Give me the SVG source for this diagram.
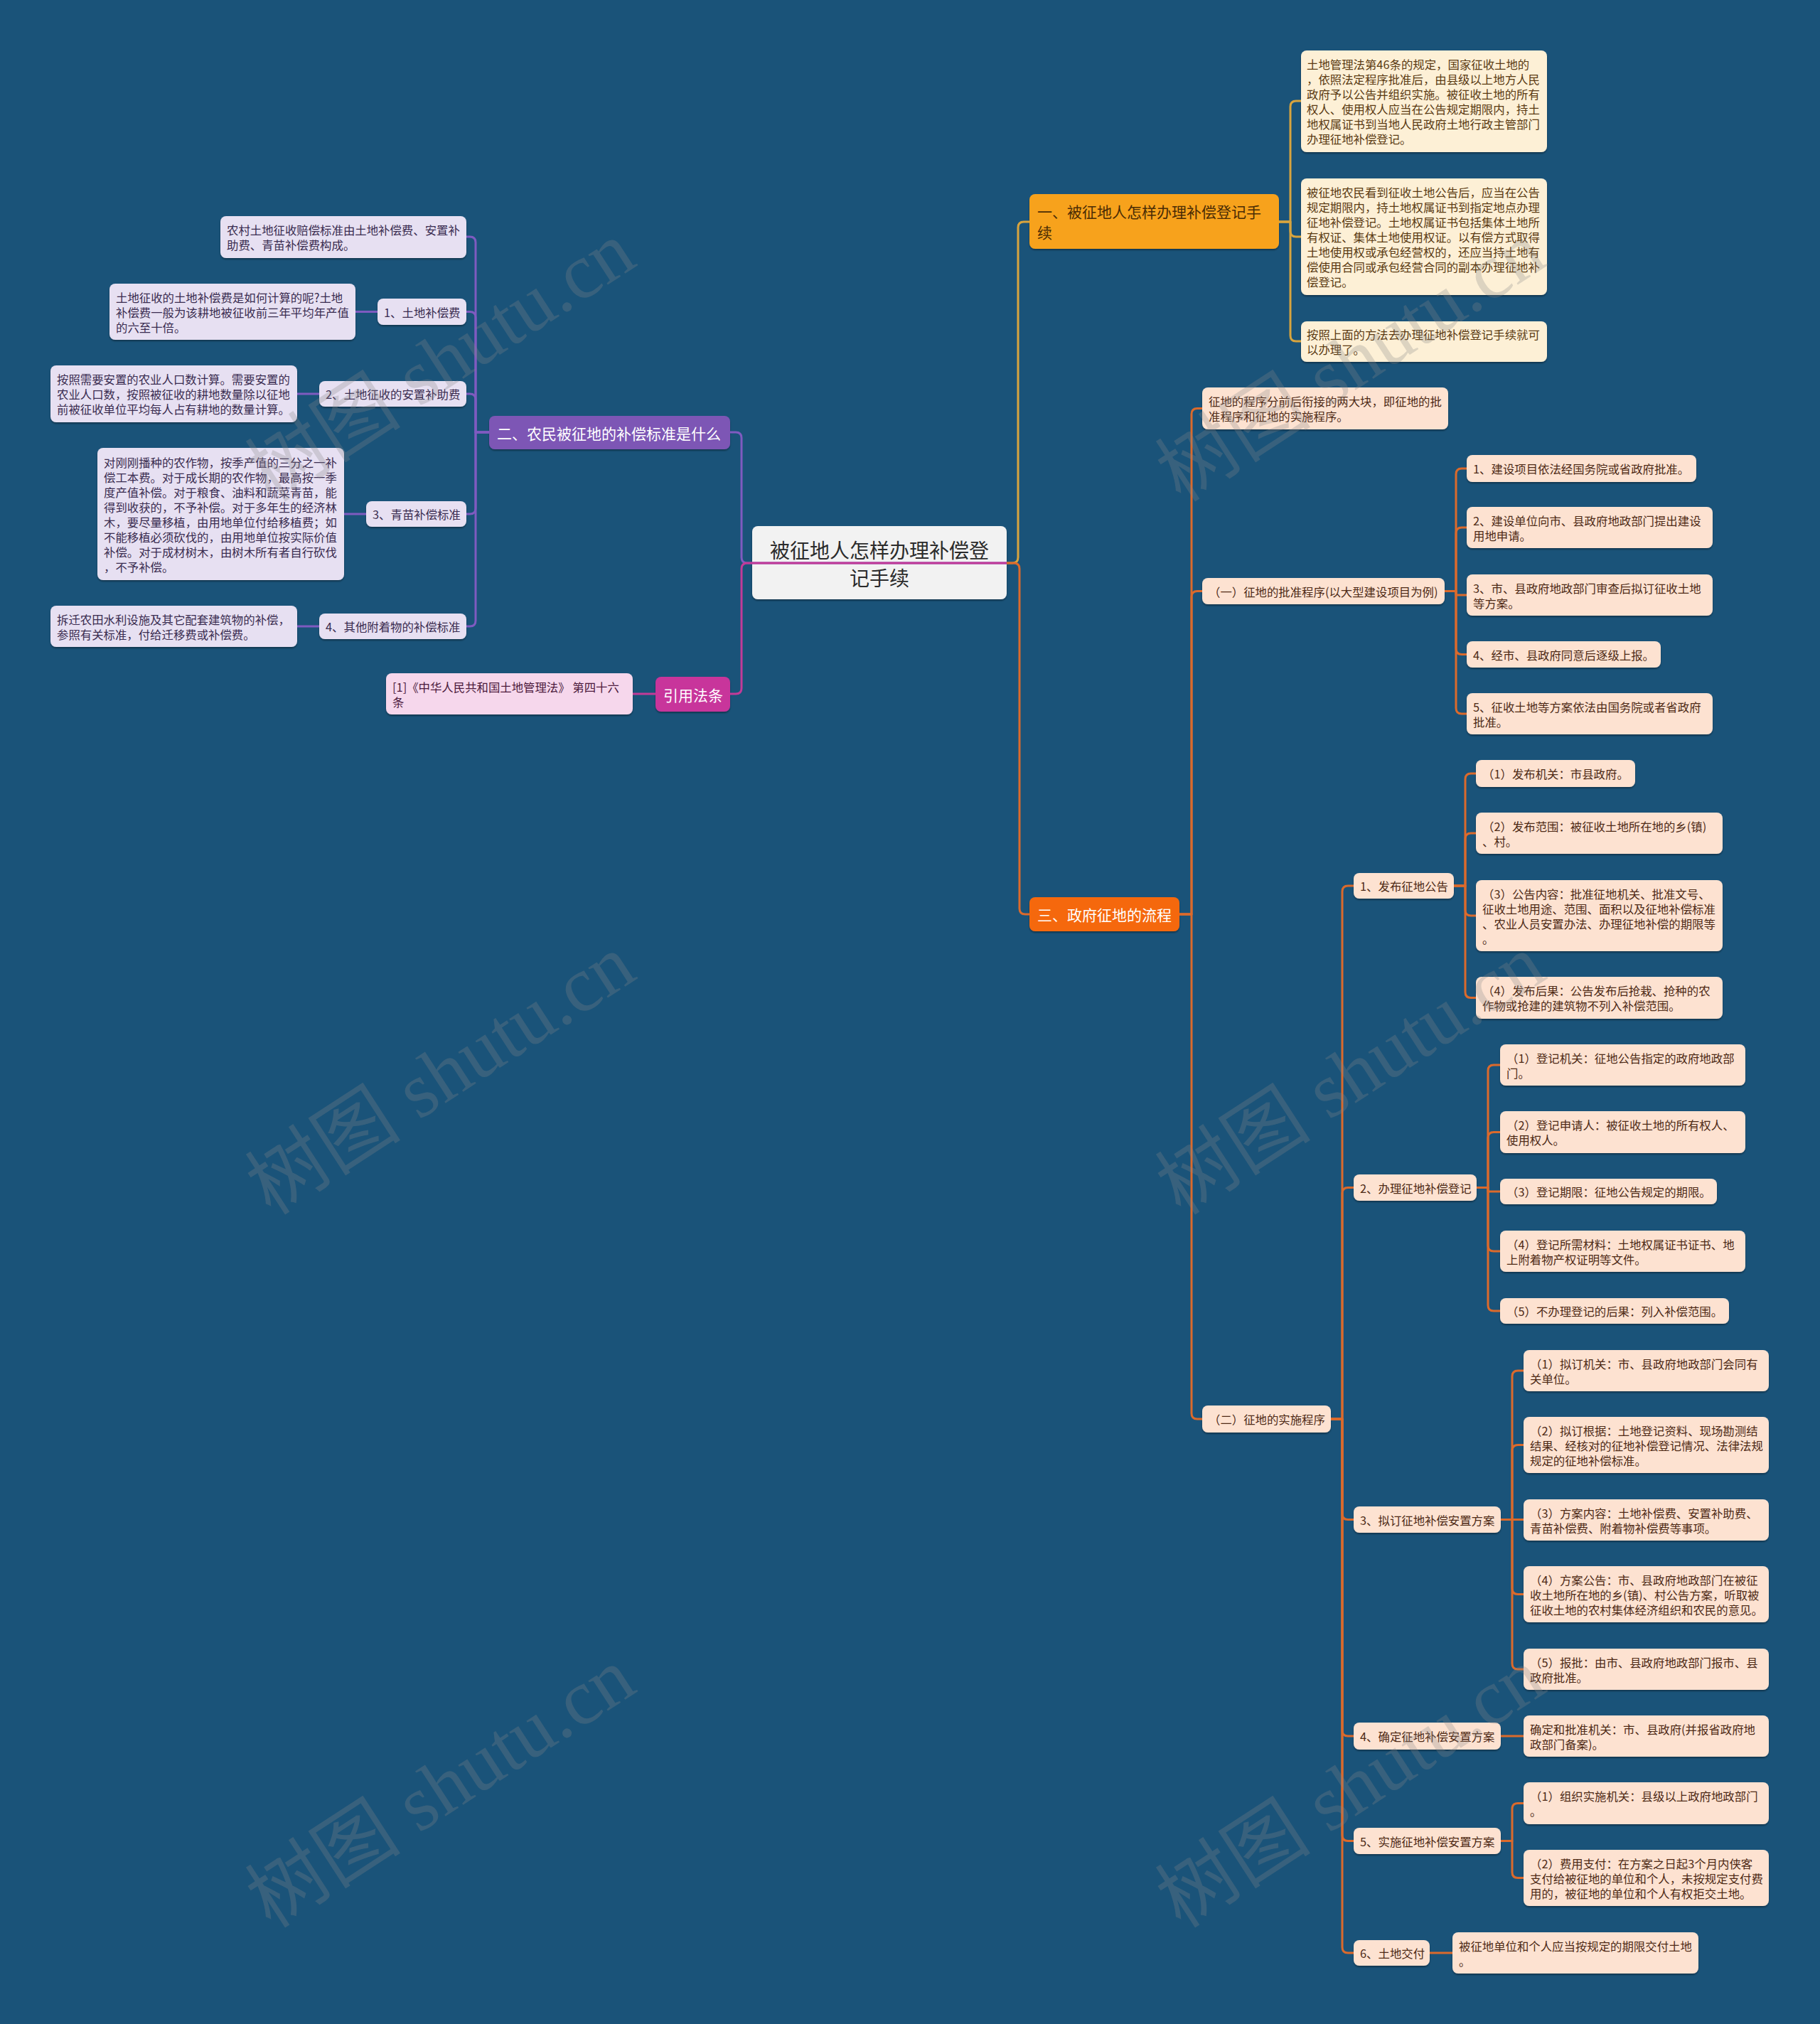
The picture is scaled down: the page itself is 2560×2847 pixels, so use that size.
<svg xmlns="http://www.w3.org/2000/svg" width="2560" height="2847" viewBox="0 0 2560 2847">
<defs>
<filter id="ds" x="-5%" y="-10%" width="110%" height="130%"><feDropShadow dx="0" dy="2" stdDeviation="1" flood-color="#000" flood-opacity="0.35"/></filter>
</defs>
<style>
text{font-family:"Noto Sans CJK SC","Liberation Sans",sans-serif;dominant-baseline:central}
.s{font-size:16.4px}
.h{font-size:21px}
.c{font-size:28px;fill:#2b2b2b}
rect{filter:url(#ds)}
.r{rx:8px;ry:8px}
.gold{fill:#f7a21c}
.cream{fill:#fdf0d6}
.tg{fill:#5a3a12}
.pur{fill:#7d56b5}
.lav{fill:#e7e0f2}
.tp{fill:#3a2c50}
.mag{fill:#c8359b}
.pink{fill:#f6d7ec}
.tm{fill:#4c1a3c}
.org{fill:#f5680f}
.peach{fill:#fde2d1}
.to{fill:#4e2a16}
.w{fill:#ffffff}
.cen{fill:#f2f2f2}
.ln{fill:none;stroke-width:3;stroke-linejoin:round}
.lg{stroke:#d8a43e}
.lp{stroke:#7f5bc0}
.lm{stroke:#c23b98}
.lo{stroke:#db6a2c}
.wm{font-family:"Liberation Serif","Noto Sans CJK SC",serif;font-size:110px;fill:#8a8a8a;fill-opacity:0.28;dominant-baseline:auto}
</style>
<rect x="0" y="0" width="2560" height="2847" fill="#1a5379" style="filter:none"/>

<g id="root"><rect class="r cen" x="1058" y="740" width="358" height="103"/><text class="c" text-anchor="middle"><tspan x="1237" y="773">被征地人怎样办理补偿登</tspan><tspan x="1237" y="812">记手续</tspan></text></g>

<g id="n1"><rect class="r gold" x="1448" y="273" width="351" height="77"/><text class="h" fill="#4a2c05"><tspan x="1459" y="297">一、被征地人怎样办理补偿登记手</tspan><tspan x="1459" y="326">续</tspan></text></g>
<g id="n1a"><rect class="r cream" x="1830" y="71" width="346" height="143"/><text class="s tg"><tspan x="1838" y="90">土地管理法第46条的规定，国家征收土地的</tspan><tspan x="1838" y="111">，依照法定程序批准后，由县级以上地方人民</tspan><tspan x="1838" y="132">政府予以公告并组织实施。被征收土地的所有</tspan><tspan x="1838" y="153">权人、使用权人应当在公告规定期限内，持土</tspan><tspan x="1838" y="174">地权属证书到当地人民政府土地行政主管部门</tspan><tspan x="1838" y="195">办理征地补偿登记。</tspan></text></g>
<g id="n1b"><rect class="r cream" x="1830" y="251" width="346" height="164"/><text class="s tg"><tspan x="1838" y="270">被征地农民看到征收土地公告后，应当在公告</tspan><tspan x="1838" y="291">规定期限内，持土地权属证书到指定地点办理</tspan><tspan x="1838" y="312">征地补偿登记。土地权属证书包括集体土地所</tspan><tspan x="1838" y="333">有权证、集体土地使用权证。以有偿方式取得</tspan><tspan x="1838" y="354">土地使用权或承包经营权的，还应当持土地有</tspan><tspan x="1838" y="375">偿使用合同或承包经营合同的副本办理征地补</tspan><tspan x="1838" y="396">偿登记。</tspan></text></g>
<g id="n1c"><rect class="r cream" x="1830" y="452" width="346" height="57"/><text class="s tg"><tspan x="1838" y="470">按照上面的方法去办理征地补偿登记手续就可</tspan><tspan x="1838" y="491">以办理了。</tspan></text></g>

<g id="n2"><rect class="r pur" x="688" y="585" width="339" height="47"/><text class="h w" x="699" y="608.5">二、农民被征地的补偿标准是什么</text></g>
<g id="n2a"><rect class="r lav" x="310" y="304" width="346" height="59"/><text class="s tp"><tspan x="319" y="323">农村土地征收赔偿标准由土地补偿费、安置补</tspan><tspan x="319" y="344">助费、青苗补偿费构成。</tspan></text></g>
<g id="n2b"><rect class="r lav" x="531" y="420" width="125" height="37"/><text class="s tp" x="540" y="438.5">1、土地补偿费</text></g>
<g id="n2b1"><rect class="r lav" x="154" y="399" width="346" height="79"/><text class="s tp"><tspan x="163" y="417.5">土地征收的土地补偿费是如何计算的呢?土地</tspan><tspan x="163" y="438.5">补偿费一般为该耕地被征收前三年平均年产值</tspan><tspan x="163" y="459.5">的六至十倍。</tspan></text></g>
<g id="n2c"><rect class="r lav" x="449" y="536" width="207" height="36"/><text class="s tp" x="458" y="554">2、土地征收的安置补助费</text></g>
<g id="n2c1"><rect class="r lav" x="71" y="514" width="347" height="80"/><text class="s tp"><tspan x="80" y="533">按照需要安置的农业人口数计算。需要安置的</tspan><tspan x="80" y="554">农业人口数，按照被征收的耕地数量除以征地</tspan><tspan x="80" y="575">前被征收单位平均每人占有耕地的数量计算。</tspan></text></g>
<g id="n2d"><rect class="r lav" x="515" y="705" width="141" height="36"/><text class="s tp" x="524" y="723">3、青苗补偿标准</text></g>
<g id="n2d1"><rect class="r lav" x="137" y="630" width="347" height="186"/><text class="s tp"><tspan x="146" y="649.5">对刚刚播种的农作物，按季产值的三分之一补</tspan><tspan x="146" y="670.5">偿工本费。对于成长期的农作物，最高按一季</tspan><tspan x="146" y="691.5">度产值补偿。对于粮食、油料和蔬菜青苗，能</tspan><tspan x="146" y="712.5">得到收获的，不予补偿。对于多年生的经济林</tspan><tspan x="146" y="733.5">木，要尽量移植，由用地单位付给移植费；如</tspan><tspan x="146" y="754.5">不能移植必须砍伐的，由用地单位按实际价值</tspan><tspan x="146" y="775.5">补偿。对于成材树木，由树木所有者自行砍伐</tspan><tspan x="146" y="796.5">，不予补偿。</tspan></text></g>
<g id="n2e"><rect class="r lav" x="449" y="863" width="207" height="36"/><text class="s tp" x="458" y="881">4、其他附着物的补偿标准</text></g>
<g id="n2e1"><rect class="r lav" x="71" y="852" width="347" height="58"/><text class="s tp"><tspan x="80" y="870.5">拆迁农田水利设施及其它配套建筑物的补偿，</tspan><tspan x="80" y="891.5">参照有关标准，付给迁移费或补偿费。</tspan></text></g>

<g id="n4"><rect class="r mag" x="922" y="952" width="105" height="49"/><text class="h w" x="933" y="976.5">引用法条</text></g>
<g id="n4a"><rect class="r pink" x="543" y="947" width="347" height="58"/><text class="s tm"><tspan x="552" y="965.5">[1]《中华人民共和国土地管理法》 第四十六</tspan><tspan x="552" y="986.5">条</tspan></text></g>

<g id="n3"><rect class="r org" x="1448" y="1262" width="211" height="48"/><text class="h w" x="1459" y="1286">三、政府征地的流程</text></g>
<g id="n3a"><rect class="r peach" x="1691" y="545" width="346" height="59"/><text class="s to"><tspan x="1700" y="564">征地的程序分前后衔接的两大块，即征地的批</tspan><tspan x="1700" y="585">准程序和征地的实施程序。</tspan></text></g>
<g id="n3b"><rect class="r peach" x="1691" y="813" width="341" height="37"/><text class="s to" x="1700" y="831.5">（一）征地的批准程序(以大型建设项目为例)</text></g>
<g id="n3b1"><rect class="r peach" x="2063" y="640" width="323" height="38"/><text class="s to" x="2072" y="659">1、建设项目依法经国务院或省政府批准。</text></g>
<g id="n3b2"><rect class="r peach" x="2063" y="713" width="346" height="58"/><text class="s to"><tspan x="2072" y="731.5">2、建设单位向市、县政府地政部门提出建设</tspan><tspan x="2072" y="752.5">用地申请。</tspan></text></g>
<g id="n3b3"><rect class="r peach" x="2063" y="808" width="346" height="58"/><text class="s to"><tspan x="2072" y="826.5">3、市、县政府地政部门审查后拟订征收土地</tspan><tspan x="2072" y="847.5">等方案。</tspan></text></g>
<g id="n3b4"><rect class="r peach" x="2063" y="902" width="273" height="37"/><text class="s to" x="2072" y="920.5">4、经市、县政府同意后逐级上报。</text></g>
<g id="n3b5"><rect class="r peach" x="2063" y="975" width="346" height="58"/><text class="s to"><tspan x="2072" y="993.5">5、征收土地等方案依法由国务院或者省政府</tspan><tspan x="2072" y="1014.5">批准。</tspan></text></g>

<g id="n3c"><rect class="r peach" x="1691" y="1977" width="181" height="38"/><text class="s to" x="1700" y="1996">（二）征地的实施程序</text></g>
<g id="n3c1"><rect class="r peach" x="1904" y="1228" width="141" height="36"/><text class="s to" x="1913" y="1246">1、发布征地公告</text></g>
<g id="n3c1a"><rect class="r peach" x="2076" y="1069" width="224" height="38"/><text class="s to" x="2085" y="1088">（1）发布机关：市县政府。</text></g>
<g id="n3c1b"><rect class="r peach" x="2076" y="1143" width="347" height="58"/><text class="s to"><tspan x="2085" y="1161.5">（2）发布范围：被征收土地所在地的乡(镇)</tspan><tspan x="2085" y="1182.5">、村。</tspan></text></g>
<g id="n3c1c"><rect class="r peach" x="2076" y="1238" width="347" height="100"/><text class="s to"><tspan x="2085" y="1256.5">（3）公告内容：批准征地机关、批准文号、</tspan><tspan x="2085" y="1277.5">征收土地用途、范围、面积以及征地补偿标准</tspan><tspan x="2085" y="1298.5">、农业人员安置办法、办理征地补偿的期限等</tspan><tspan x="2085" y="1319.5">。</tspan></text></g>
<g id="n3c1d"><rect class="r peach" x="2076" y="1374" width="347" height="59"/><text class="s to"><tspan x="2085" y="1393">（4）发布后果：公告发布后抢栽、抢种的农</tspan><tspan x="2085" y="1414">作物或抢建的建筑物不列入补偿范围。</tspan></text></g>

<g id="n3c2"><rect class="r peach" x="1904" y="1652" width="173" height="37"/><text class="s to" x="1913" y="1670.5">2、办理征地补偿登记</text></g>
<g id="n3c2a"><rect class="r peach" x="2110" y="1469" width="345" height="58"/><text class="s to"><tspan x="2119" y="1487.5">（1）登记机关：征地公告指定的政府地政部</tspan><tspan x="2119" y="1508.5">门。</tspan></text></g>
<g id="n3c2b"><rect class="r peach" x="2110" y="1563" width="345" height="59"/><text class="s to"><tspan x="2119" y="1582">（2）登记申请人：被征收土地的所有权人、</tspan><tspan x="2119" y="1603">使用权人。</tspan></text></g>
<g id="n3c2c"><rect class="r peach" x="2110" y="1658" width="305" height="36"/><text class="s to" x="2119" y="1676">（3）登记期限：征地公告规定的期限。</text></g>
<g id="n3c2d"><rect class="r peach" x="2110" y="1731" width="345" height="58"/><text class="s to"><tspan x="2119" y="1749.5">（4）登记所需材料：土地权属证书证书、地</tspan><tspan x="2119" y="1770.5">上附着物产权证明等文件。</tspan></text></g>
<g id="n3c2e"><rect class="r peach" x="2110" y="1826" width="322" height="36"/><text class="s to" x="2119" y="1844">（5）不办理登记的后果：列入补偿范围。</text></g>

<g id="n3c3"><rect class="r peach" x="1904" y="2119" width="207" height="37"/><text class="s to" x="1913" y="2137.5">3、拟订征地补偿安置方案</text></g>
<g id="n3c3a"><rect class="r peach" x="2143" y="1899" width="345" height="58"/><text class="s to"><tspan x="2152" y="1917.5">（1）拟订机关：市、县政府地政部门会同有</tspan><tspan x="2152" y="1938.5">关单位。</tspan></text></g>
<g id="n3c3b"><rect class="r peach" x="2143" y="1993" width="345" height="79"/><text class="s to"><tspan x="2152" y="2011.5">（2）拟订根据：土地登记资料、现场勘测结</tspan><tspan x="2152" y="2032.5">结果、经核对的征地补偿登记情况、法律法规</tspan><tspan x="2152" y="2053.5">规定的征地补偿标准。</tspan></text></g>
<g id="n3c3c"><rect class="r peach" x="2143" y="2109" width="345" height="58"/><text class="s to"><tspan x="2152" y="2127.5">（3）方案内容：土地补偿费、安置补助费、</tspan><tspan x="2152" y="2148.5">青苗补偿费、附着物补偿费等事项。</tspan></text></g>
<g id="n3c3d"><rect class="r peach" x="2143" y="2203" width="345" height="79"/><text class="s to"><tspan x="2152" y="2221.5">（4）方案公告：市、县政府地政部门在被征</tspan><tspan x="2152" y="2242.5">收土地所在地的乡(镇)、村公告方案，听取被</tspan><tspan x="2152" y="2263.5">征收土地的农村集体经济组织和农民的意见。</tspan></text></g>
<g id="n3c3e"><rect class="r peach" x="2143" y="2319" width="345" height="58"/><text class="s to"><tspan x="2152" y="2337.5">（5）报批：由市、县政府地政部门报市、县</tspan><tspan x="2152" y="2358.5">政府批准。</tspan></text></g>

<g id="n3c4"><rect class="r peach" x="1904" y="2423" width="207" height="38"/><text class="s to" x="1913" y="2442">4、确定征地补偿安置方案</text></g>
<g id="n3c4a"><rect class="r peach" x="2143" y="2413" width="345" height="58"/><text class="s to"><tspan x="2152" y="2431.5">确定和批准机关：市、县政府(并报省政府地</tspan><tspan x="2152" y="2452.5">政部门备案)。</tspan></text></g>

<g id="n3c5"><rect class="r peach" x="1904" y="2571" width="207" height="37"/><text class="s to" x="1913" y="2589.5">5、实施征地补偿安置方案</text></g>
<g id="n3c5a"><rect class="r peach" x="2143" y="2507" width="345" height="59"/><text class="s to"><tspan x="2152" y="2526">（1）组织实施机关：县级以上政府地政部门</tspan><tspan x="2152" y="2547">。</tspan></text></g>
<g id="n3c5b"><rect class="r peach" x="2143" y="2602" width="345" height="79"/><text class="s to"><tspan x="2152" y="2620.5">（2）费用支付：在方案之日起3个月内侠客</tspan><tspan x="2152" y="2641.5">支付给被征地的单位和个人，未按规定支付费</tspan><tspan x="2152" y="2662.5">用的，被征地的单位和个人有权拒交土地。</tspan></text></g>

<g id="n3c6"><rect class="r peach" x="1904" y="2729" width="107" height="36"/><text class="s to" x="1913" y="2747">6、土地交付</text></g>
<g id="n3c6a"><rect class="r peach" x="2043" y="2718" width="346" height="58"/><text class="s to"><tspan x="2052" y="2736.5">被征地单位和个人应当按规定的期限交付土地</tspan><tspan x="2052" y="2757.5">。</tspan></text></g>

<g id="connectors">
<path class="ln lp" d="M1416,792 H1051 Q1043,792 1043,784 V616 Q1043,608 1035,608 H1027"/>
<path class="ln lp" d="M688,608 H669 V341 Q669,333 661,333 H656"/>
<path class="ln lp" d="M688,608 H669 V446.5 Q669,438.5 661,438.5 H656"/>
<path class="ln lp" d="M688,608 H669 V562 Q669,554 661,554 H656"/>
<path class="ln lp" d="M688,608 H669 V715 Q669,723 661,723 H656"/>
<path class="ln lp" d="M688,608 H669 V873 Q669,881 661,881 H656"/>
<path class="ln lp" d="M531,438.5 H500"/>
<path class="ln lp" d="M449,554 H418"/>
<path class="ln lp" d="M515,723 H484"/>
<path class="ln lp" d="M449,881 H418"/>
<path class="ln lm" d="M1416,792 H1051 Q1043,792 1043,800 V968 Q1043,976 1035,976 H1027"/>
<path class="ln lm" d="M922,976 H890"/>
<path class="ln lg" d="M1416,792 H1424 Q1432,792 1432,784 V320 Q1432,312 1440,312 H1448"/>
<path class="ln lg" d="M1799,312 H1815 V150 Q1815,142 1823,142 H1830"/>
<path class="ln lg" d="M1799,312 H1815 V325 Q1815,333 1823,333 H1830"/>
<path class="ln lg" d="M1799,312 H1815 V472 Q1815,480 1823,480 H1830"/>
<path class="ln lo" d="M1416,792 H1426 Q1434,792 1434,800 V1278 Q1434,1286 1442,1286 H1448"/>
<path class="ln lo" d="M1659,1286 H1676 V582.5 Q1676,574.5 1684,574.5 H1691"/>
<path class="ln lo" d="M1659,1286 H1676 V839.5 Q1676,831.5 1684,831.5 H1691"/>
<path class="ln lo" d="M1659,1286 H1676 V1988 Q1676,1996 1684,1996 H1691"/>
<path class="ln lo" d="M2032,831.5 H2048 V667 Q2048,659 2056,659 H2063"/>
<path class="ln lo" d="M2032,831.5 H2048 V750 Q2048,742 2056,742 H2063"/>
<path class="ln lo" d="M2032,831.5 H2048 V837 H2063"/>
<path class="ln lo" d="M2032,831.5 H2048 V912.5 Q2048,920.5 2056,920.5 H2063"/>
<path class="ln lo" d="M2032,831.5 H2048 V996 Q2048,1004 2056,1004 H2063"/>
<path class="ln lo" d="M1872,1996 H1888 V1254 Q1888,1246 1896,1246 H1904"/>
<path class="ln lo" d="M1872,1996 H1888 V1678.5 Q1888,1670.5 1896,1670.5 H1904"/>
<path class="ln lo" d="M1872,1996 H1888 V2129.5 Q1888,2137.5 1896,2137.5 H1904"/>
<path class="ln lo" d="M1872,1996 H1888 V2434 Q1888,2442 1896,2442 H1904"/>
<path class="ln lo" d="M1872,1996 H1888 V2581.5 Q1888,2589.5 1896,2589.5 H1904"/>
<path class="ln lo" d="M1872,1996 H1888 V2739 Q1888,2747 1896,2747 H1904"/>
<path class="ln lo" d="M2045,1246 H2061 V1096 Q2061,1088 2069,1088 H2076"/>
<path class="ln lo" d="M2045,1246 H2061 V1180 Q2061,1172 2069,1172 H2076"/>
<path class="ln lo" d="M2045,1246 H2061 V1280 Q2061,1288 2069,1288 H2076"/>
<path class="ln lo" d="M2045,1246 H2061 V1395.5 Q2061,1403.5 2069,1403.5 H2076"/>
<path class="ln lo" d="M2077,1670.5 H2093 V1506 Q2093,1498 2101,1498 H2110"/>
<path class="ln lo" d="M2077,1670.5 H2093 V1600.5 Q2093,1592.5 2101,1592.5 H2110"/>
<path class="ln lo" d="M2077,1670.5 H2093 V1676 H2110"/>
<path class="ln lo" d="M2077,1670.5 H2093 V1752 Q2093,1760 2101,1760 H2110"/>
<path class="ln lo" d="M2077,1670.5 H2093 V1836 Q2093,1844 2101,1844 H2110"/>
<path class="ln lo" d="M2111,2137.5 H2127 V1936 Q2127,1928 2135,1928 H2143"/>
<path class="ln lo" d="M2111,2137.5 H2127 V2040.5 Q2127,2032.5 2135,2032.5 H2143"/>
<path class="ln lo" d="M2111,2137.5 H2143"/>
<path class="ln lo" d="M2111,2137.5 H2127 V2234.5 Q2127,2242.5 2135,2242.5 H2143"/>
<path class="ln lo" d="M2111,2137.5 H2127 V2340 Q2127,2348 2135,2348 H2143"/>
<path class="ln lo" d="M2111,2442 H2143"/>
<path class="ln lo" d="M2111,2589.5 H2127 V2544.5 Q2127,2536.5 2135,2536.5 H2143"/>
<path class="ln lo" d="M2111,2589.5 H2127 V2633.5 Q2127,2641.5 2135,2641.5 H2143"/>
<path class="ln lo" d="M2011,2747 H2043"/>
</g>

<g id="watermarks">
<text class="wm" text-anchor="middle" transform="translate(640,540) rotate(-33)">树图 shutu.cn</text>
<text class="wm" text-anchor="middle" transform="translate(640,1543) rotate(-33)">树图 shutu.cn</text>
<text class="wm" text-anchor="middle" transform="translate(640,2546) rotate(-33)">树图 shutu.cn</text>
<text class="wm" text-anchor="middle" transform="translate(1920,540) rotate(-33)">树图 shutu.cn</text>
<text class="wm" text-anchor="middle" transform="translate(1920,1543) rotate(-33)">树图 shutu.cn</text>
<text class="wm" text-anchor="middle" transform="translate(1920,2546) rotate(-33)">树图 shutu.cn</text>
</g>
</svg>
